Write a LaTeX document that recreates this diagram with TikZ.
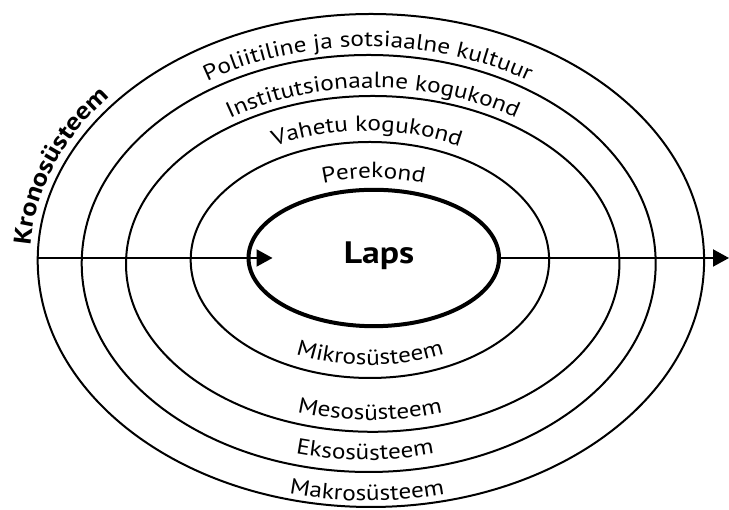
\documentclass[tikz,border=0pt]{standalone}
\usepackage{fontspec}
\setmainfont[FakeStretch=1.15]{PT Sans}
\usetikzlibrary{shapes.geometric,arrows.meta,decorations.text,calc}
\newcommand{\ringfont}{\fontsize{22}{24}\selectfont}
\newcommand{\kronofont}{\bfseries\fontsize{24.5}{26}\selectfont}
\tikzset{
	ring/.style={
		ellipse, draw, line width=2pt, inner sep=0pt, outer sep=0pt
	},
	%
	childring/.style={
		ring, line width=4pt
	},
	%
	ringlabel/.style={
		decorate, decoration={text along path, text align=center, text={|\ringfont|#1}}
	},
	%
	kronolabel/.style={
		decorate, decoration={text along path, text align=center, text={|\kronofont|#1}}
	}
}

\begin{document}
\begin{tikzpicture}[x=1pt, y=1pt, >={Triangle[length=16pt, width=17pt]}]
    \useasboundingbox (0,0) rectangle (729,510);
    \node(E1)[ring, minimum width=666.4pt, minimum height=493pt] at (370.9,249.5){};
    \node(E2)[ring, minimum width=574pt, minimum height=417pt] at (368.7,246.5){};
    \node(E3)[ring, minimum width=493.4pt, minimum height=335.8pt] at (372.7,246.1){};
    \node(E4)[ring, minimum width=358.4pt, minimum height=236pt] at (369.9,250){};
    \node(E5)[childring, minimum width=250.5pt, minimum height=136.4pt] at (373.75,252){};
    \node(laps)[font=\bfseries\fontsize{31}{33}\selectfont, anchor=base] at (379,246.7){Laps};
    \coordinate(out) at (729,252);
    \draw[->, line width=2pt] (E1.west |- E5.center) -- ([xshift=24pt]E5.west);
    \draw[->, line width=2pt] (E5.east) -- (out);
    % top labels
    \path[ringlabel={Poliitiline ja sotsiaalne kultuur}] ($(368,247.2)+(165:296.2 and 216.1)$) arc[start angle=165, end angle=15, x radius=296.2, y radius=216.1];
    \path[ringlabel={Institutsionaalne kogukond}] ($(373,246.2)+(165:254.6 and 175.8)$) arc[start angle=165, end angle=15, x radius=254.6, y radius=175.8];
    \path[ringlabel={Vahetu kogukond}] ($(367,249)+(165:195.4 and 130)$) arc[start angle=165, end angle=15, x radius=195.4, y radius=130];
    \path[ringlabel={Perekond}] ($(373.5,250.8)+(150:139.8 and 81.2)$) arc[start angle=150, end angle=30, x radius=139.8, y radius=81.2];
    % bottom labels
    \path[ringlabel={Mikrosüsteem}] ($(370,250.5)+(200:165.9 and 105.5)$) arc[start angle=200, end angle=340, x radius=165.9, y radius=105.5];
    \path[ringlabel={Mesosüsteem}] ($(370,246.9)+(200:231.9 and 156.9)$) arc[start angle=200, end angle=340, x radius=231.9, y radius=156.9];
    \path[ringlabel={Eksosüsteem}] ($(365,246.3)+(200:274.9 and 196.3)$) arc[start angle=200, end angle=340, x radius=274.9, y radius=196.3];
    \path[ringlabel={Makrosüsteem}] ($(367,249)+(200:324.9 and 239.7)$) arc[start angle=200, end angle=340, x radius=324.9, y radius=239.7];
    % time
    \path[kronolabel={Kronosüsteem}] ($(370.9,249.5)+(180:341 and 254.5)$) arc[start angle=180, end angle=137, x radius=341, y radius=254.5];
\end{tikzpicture}
\end{document}
